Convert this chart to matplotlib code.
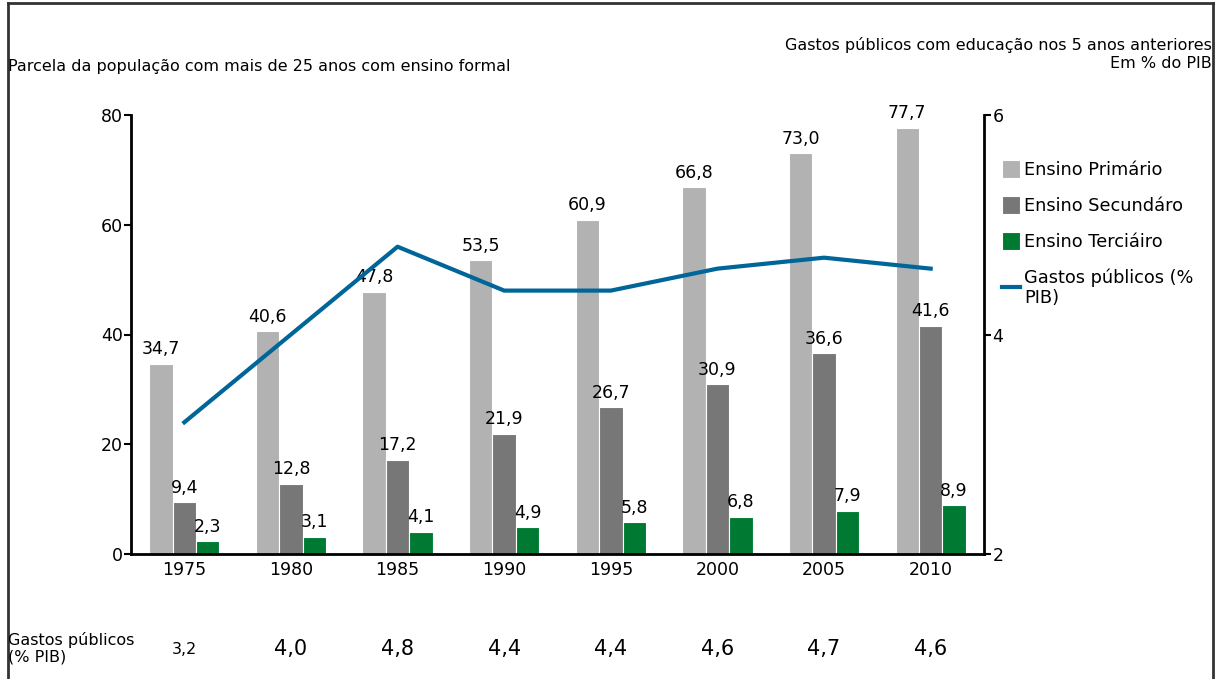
import matplotlib
matplotlib.use('Agg')
import matplotlib.pyplot as plt
from matplotlib.lines import Line2D
import numpy as np

plt.rcParams['font.family'] = ['DejaVu Sans']

years = ['1975', '1980', '1985', '1990', '1995', '2000', '2005', '2010']
primario = [34.7, 40.6, 47.8, 53.5, 60.9, 66.8, 73.0, 77.7]
secundario = [9.4, 12.8, 17.2, 21.9, 26.7, 30.9, 36.6, 41.6]
terciario = [2.3, 3.1, 4.1, 4.9, 5.8, 6.8, 7.9, 8.9]
gastos = [3.2, 4.0, 4.8, 4.4, 4.4, 4.6, 4.7, 4.6]

C_PRI = '#b2b2b2'
C_SEC = '#777777'
C_TER = '#007a33'
C_LINE = '#006699'


def fmt(v):
    return f'{v:.1f}'.replace('.', ',')


W, H = 1226, 679
fig = plt.figure(figsize=(W / 100, H / 100), dpi=100)
ax = fig.add_axes([131 / W, 1 - 554 / H, (984 - 131) / W, (554 - 115) / H])
ax2 = ax.twinx()

x = np.arange(len(years))
bw = 0.22
series = [(primario, C_PRI, 'Ensino Primário', -bw),
          (secundario, C_SEC, 'Ensino Secundáro', 0.0),
          (terciario, C_TER, 'Ensino Terciáiro', bw)]
handles = []
for vals, col, lab, off in series:
    bars = ax.bar(x + off, vals, width=bw, color=col, edgecolor='white',
                  linewidth=0.8, label=lab, zorder=2)
    handles.append(bars)
    for xi, v in zip(x + off, vals):
        ax.annotate(fmt(v), (xi, v), xytext=(0, 4), textcoords='offset points',
                    ha='center', va='bottom', fontsize=12.5, zorder=4)

line, = ax2.plot(x, gastos, color=C_LINE, linewidth=3, zorder=3,
                 label='Gastos públicos (%\nPIB)')
handles.append(line)

ax.set_xlim(-0.5, len(years) - 0.5)
ax.set_ylim(0, 80)
ax.set_yticks([0, 20, 40, 60, 80])
ax2.set_ylim(2, 6)
ax2.set_yticks([2, 4, 6])
ax.set_xticks(x)
ax.set_xticklabels(years)
ax.tick_params(axis='x', length=0, labelsize=12.5, pad=5)
ax.tick_params(axis='y', length=5, width=1.5, labelsize=12.5, pad=1)
ax2.tick_params(axis='y', length=5, width=1.5, labelsize=12.5, pad=1)

for a in (ax, ax2):
    a.spines['top'].set_visible(False)
    a.patch.set_visible(False)
ax.spines['left'].set_linewidth(2)
ax.spines['bottom'].set_linewidth(2)
ax.spines['right'].set_visible(False)
ax2.spines['left'].set_visible(False)
ax2.spines['bottom'].set_visible(False)
ax2.spines['right'].set_linewidth(2)
ax.set_zorder(1)
ax2.set_zorder(2)

fig.legend(handles=handles, labels=[h.get_label() for h in handles],
           loc='upper left', bbox_to_anchor=(995 / W, 1 - 153 / H),
           frameon=False, fontsize=12.8, handlelength=1.0, handleheight=1.2,
           handletextpad=0.25, labelspacing=0.95, borderaxespad=0)

fig.text(8 / W, 1 - 66 / H, 'Parcela da população com mais de 25 anos com ensino formal',
         ha='left', va='center', fontsize=11.5)
fig.text(1212 / W, 1 - 45 / H, 'Gastos públicos com educação nos 5 anos anteriores',
         ha='right', va='center', fontsize=11.5)
fig.text(1212 / W, 1 - 64 / H, 'Em % do PIB', ha='right', va='center', fontsize=11.5)

# bottom row with spending values
fig.text(8 / W, 1 - 648 / H, 'Gastos públicos\n(% PIB)', ha='left', va='center',
         fontsize=11.5, linespacing=1.1)
for xi, g in zip(x, gastos):
    xf = fig.transFigure.inverted().transform(ax.transData.transform((xi, 0)))[0]
    fig.text(xf, 1 - 649 / H, fmt(g), ha='center', va='center',
             fontsize=11.5 if xi == 0 else 15)

# outer frame
frame_kw = dict(color='#333333', linewidth=2, transform=fig.transFigure)
fig.add_artist(Line2D([7.5 / W, 7.5 / W], [0, 1 - 3 / H], **frame_kw))
fig.add_artist(Line2D([7.5 / W, 1213 / W], [1 - 3 / H, 1 - 3 / H], **frame_kw))
fig.add_artist(Line2D([1213 / W, 1213 / W], [0, 1 - 3 / H], **frame_kw))

fig.savefig('out.png', dpi=100)
